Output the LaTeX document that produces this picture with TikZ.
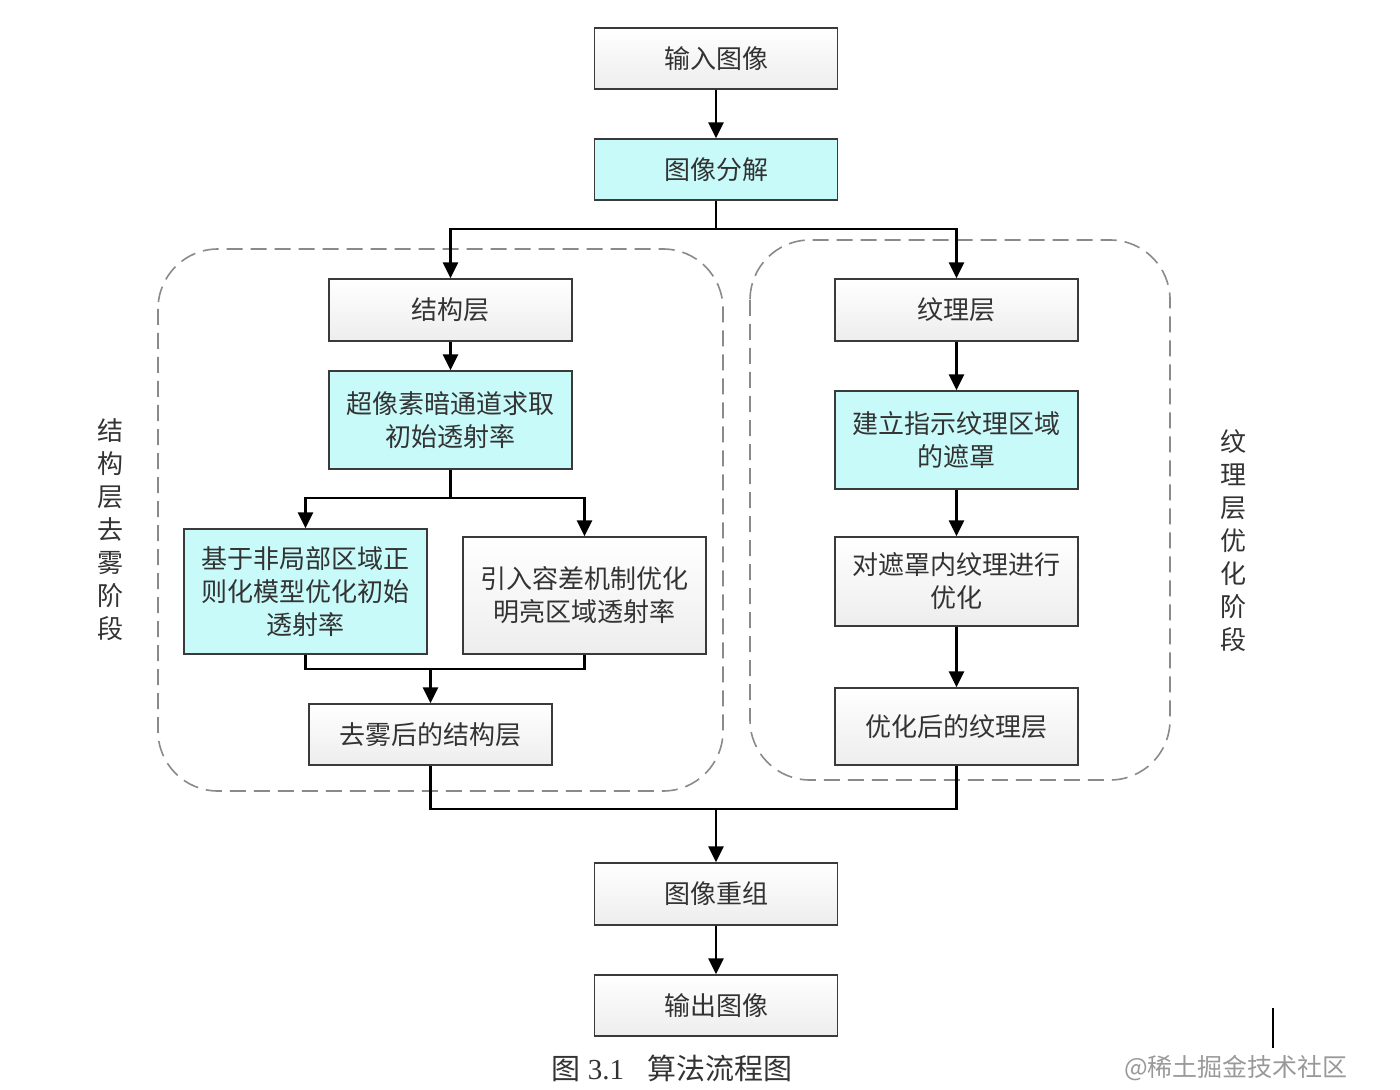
\documentclass[tikz,border=0pt]{standalone}
\usepackage{fontspec}
\setmainfont{Liberation Serif}
\newfontfamily\cjk{Noto Sans CJK SC}
\usetikzlibrary{arrows.meta,calc}
\definecolor{boxcyan}{HTML}{C8FAFA}
\definecolor{edge}{HTML}{3A3A3A}
\definecolor{dashc}{HTML}{8A8A8A}
\tikzset{
  x=0.5pt, y=-0.5pt,
  basebox/.style={draw=edge, line width=0.7pt, minimum width=121.5pt, inner sep=2pt,
    align=center, font=\cjk\fontsize{13}{16.5}\selectfont, text=black!80},
  wbox/.style={basebox, top color=white, bottom color=black!7},
  cbox/.style={basebox, fill=boxcyan},
  ln/.style={line width=1.3pt, black},
  arr/.style={ln, -{Triangle[width=7.5pt,length=8pt]}},
  stage/.style={dashed, dash pattern=on 8pt off 4pt, draw=dashc, line width=0.8pt, rounded corners=30pt},
  vlabel/.style={align=center, font=\cjk\fontsize{13}{16.5}\selectfont, text=black!80, inner sep=0pt}
}
\begin{document}
\begin{tikzpicture}
\useasboundingbox (0,0) rectangle (1400,1090);
% stage frames
\draw[stage] (158,249) rectangle (723,791);
\draw[stage] (750,240) rectangle (1170,780);
% nodes
\node[wbox, minimum height=30.5pt] (in) at (716,58.5) {输入图像};
\node[cbox, minimum height=30.5pt] (dec) at (716,169.5) {图像分解};
\node[wbox, minimum height=31pt] (struct) at (450.5,310) {结构层};
\node[cbox, minimum height=49pt] (sp) at (450.5,420) {超像素暗通道求取\\初始透射率};
\node[cbox, minimum height=62.5pt] (nl) at (305.5,591.5) {基于非局部区域正\\则化模型优化初始\\透射率};
\node[wbox, minimum height=58.5pt] (tol) at (584.5,595.5) {引入容差机制优化\\明亮区域透射率};
\node[wbox, minimum height=30.5pt] (dehaze) at (430.5,734.5) {去雾后的结构层};
\node[wbox, minimum height=31pt] (tex) at (956.5,310) {纹理层};
\node[cbox, minimum height=49pt] (mask) at (956.5,440) {建立指示纹理区域\\的遮罩};
\node[wbox, minimum height=44.5pt] (opt) at (956.5,581.5) {对遮罩内纹理进行\\优化};
\node[wbox, minimum height=38.5pt] (texopt) at (956.5,726.5) {优化后的纹理层};
\node[wbox, minimum height=31pt] (recon) at (716,894) {图像重组};
\node[wbox, minimum height=30.5pt] (out) at (716,1005.5) {输出图像};
% stage labels
\node[vlabel] (lstage) at (110,530) {结\\构\\层\\去\\雾\\阶\\段};
\node[vlabel] (rstage) at (1233,541) {纹\\理\\层\\优\\化\\阶\\段};
% connectors
\coordinate (b1) at (716,229);
\coordinate (b2) at (450.5,498);
\coordinate (m1) at (430.5,669);
\coordinate (m2) at (716,809);
\draw[arr] (in) -- (dec);
\draw[ln] (dec) -- (b1);
\draw[arr] (b1) -| (struct);
\draw[arr] (b1) -| (tex);
\draw[arr] (struct) -- (sp);
\draw[ln] (sp) -- (b2);
\draw[arr] (b2) -| (nl);
\draw[arr] (b2) -| (tol);
\draw[ln] (nl) |- (m1) -| (tol);
\draw[arr] (m1) -- (dehaze);
\draw[arr] (tex) -- (mask);
\draw[arr] (mask) -- (opt);
\draw[arr] (opt) -- (texopt);
\draw[ln] (dehaze) |- (m2) -| (texopt);
\draw[arr] (m2) -- (recon);
\draw[arr] (recon) -- (out);
% caption
\node[font=\fontsize{14.5}{16}\selectfont, text=black!80] (cap) at (672,1068) {{\cjk 图} 3.1\hspace{0.8em}{\cjk 算法流程图}};
% watermark
\node[font=\cjk\fontsize{12.5}{14}\selectfont, text=black!40] (wm) at (1236,1068) {@稀土掘金技术社区};
\coordinate (t1) at (1273,1008);
\coordinate (t2) at (1273,1048);
\draw[line width=1.2pt] (t1) -- (t2);
\end{tikzpicture}
\end{document}
